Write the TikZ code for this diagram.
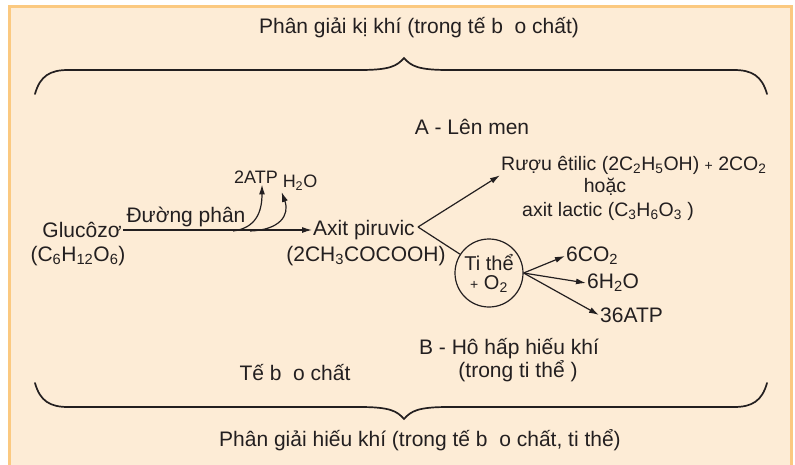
\documentclass[tikz,border=0pt]{standalone}
\usepackage{fontspec}
\setmainfont{Liberation Sans}
\usetikzlibrary{arrows.meta,calc,positioning}
\definecolor{bgcol}{RGB}{253,236,214}
\definecolor{framecol}{RGB}{251,201,128}
\definecolor{inkcol}{RGB}{35,31,32}
\newcommand{\chemsub}[1]{\textsubscript{#1}}
\newcommand{\smallplus}{{\fontsize{14}{14}\selectfont +}}
\tikzset{
    lbl/.style={font=\fontsize{21}{23}\selectfont,text=inkcol,inner sep=1pt,align=center},
    midlbl/.style={font=\fontsize{19.5}{21}\selectfont,text=inkcol,inner sep=1pt,align=center},
    smalllbl/.style={font=\fontsize{18}{20}\selectfont,text=inkcol,inner sep=1pt},
    biglbl/.style={font=\fontsize{21}{23}\selectfont,text=inkcol,inner sep=1pt},
    myarrow/.style={draw=inkcol,line width=1.2pt,-{Latex[length=10pt,width=6pt]}},
    myline/.style={draw=inkcol,line width=1.2pt},
    mybrace/.style={draw=inkcol,line width=1.7pt,line cap=round},
    mycell/.style={circle,draw=inkcol,line width=1.2pt,minimum size=68pt,inner sep=0pt,align=center,
        font=\fontsize{20}{19}\selectfont,text=inkcol}
}
\begin{document}
\begin{tikzpicture}[x=1pt,y=-1pt]
  \useasboundingbox (0,0) rectangle (795,464);
  % frame
  \fill[bgcol] (9,6) rectangle (791,470);
  \draw[framecol,line width=3pt] (9,470) -- (9,6) -- (791,6) -- (791,470);

  % braces
  \draw[mybrace] (35,94) .. controls (40,76) and (50,70) .. (68,70) -- (360,70)
    .. controls (390,70) and (397,66) .. (404,58)
    .. controls (411,66) and (418,70) .. (448,70) -- (734,70)
    .. controls (752,70) and (762,76) .. (767,94);
  \draw[mybrace] (35,383) .. controls (40,401) and (50,407) .. (68,407) -- (360,407)
    .. controls (390,407) and (397,411) .. (404,419)
    .. controls (411,411) and (418,407) .. (448,407) -- (734,407)
    .. controls (752,407) and (762,401) .. (767,383);

  \node[biglbl] (kikhi) at (419,28) {Phân giải kị khí (trong tế b\ \ o chất)};
  \node[biglbl] (hieukhi) at (420,440) {Phân giải hiếu khí (trong tế b\ \ o chất, ti thể)};
  \node[lbl] (lenmen) at (472,127) {A - Lên men};

  % glycolysis
  \node[lbl] (gluco) at (82,230) {Glucôzơ};
  \node[lbl] (glucof) at (78,256) {(C\chemsub{6}H\chemsub{12}O\chemsub{6})};
  \node[lbl] (piru) at (364,230) {Axit piruvic};
  \node[lbl] (piruf) at (366,256) {(2CH\chemsub{3}COCOOH)};
  \node[lbl] (duong) at (186,217) {Đường phân};
  \node[smalllbl] (atp) at (256,177) {2ATP};
  \node[smalllbl] (water) at (300,183) {H\chemsub{2}O};
  \draw[myarrow] (gluco.east) -- (piru.west);
  \coordinate (atpstart) at (233,231);
  \coordinate (h2ostart) at (250,231);
  \draw[myarrow] (atpstart) .. controls (256,228) and (262,212) .. (atp.south-|262,0);
  \draw[myarrow] (h2ostart) .. controls (280,230) and (290,215) .. (water.south west);

  % fermentation
  \coordinate (br) at (418,227);
  \node[midlbl,anchor=west] (ruou) at (500,165) {Rượu êtilic (2C\chemsub{2}H\chemsub{5}OH) \smallplus\ 2CO\chemsub{2}};
  \node[midlbl] (hoac) at (605,187) {hoặc};
  \node[midlbl] (lactic) at (608,211) {axit lactic (C\chemsub{3}H\chemsub{6}O\chemsub{3} )};
  \draw[myarrow] (br) -- (ruou.south west);

  % aerobic
  \node[mycell] (tithe) at (489,273) {Ti thể\\\smallplus\ O\chemsub{2}};
  \draw[myline] (br) -- (tithe);
  \node[lbl,anchor=west] (co2) at (565,256) {6CO\chemsub{2}};
  \node[lbl,anchor=west] (h2o) at (586,283) {6H\chemsub{2}O};
  \node[lbl,anchor=west] (atp36) at (599,315) {36ATP};
  \draw[myarrow] (tithe.east) -- (co2.west);
  \draw[myarrow] (tithe.east) -- (h2o.west);
  \draw[myarrow] (tithe.east) -- (atp36.west);

  \node[lbl] (hohap) at (509,349) {B - Hô hấp hiếu khí};
  \node[lbl] (trongti) at (518,371) {(trong ti thể )};
  \node[lbl] (tebao) at (295,373) {Tế b\ \ o chất};
\end{tikzpicture}
\end{document}
